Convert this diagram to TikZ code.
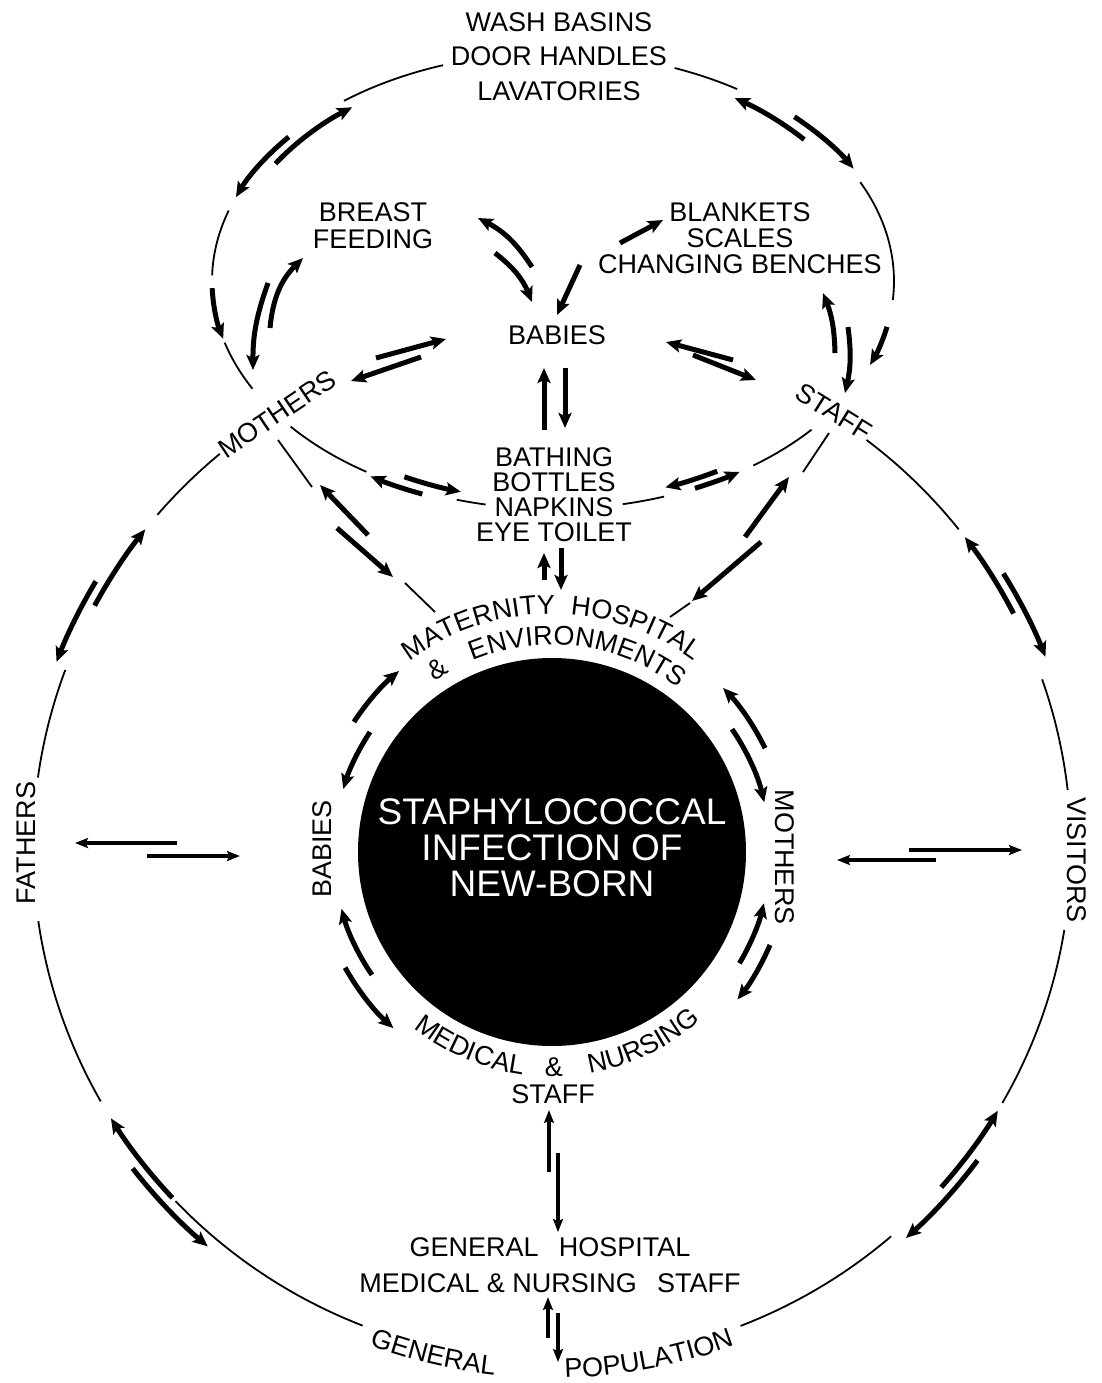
\documentclass[tikz,border=0pt]{standalone}
\usepackage{fontspec}
\setmainfont{Liberation Sans}
\usetikzlibrary{calc,arrows.meta}
\def\lblfont{\fontsize{13.5}{13}\selectfont}
\def\ttlfont{\fontsize{18.5}{18}\selectfont}
\def\ovalarc[#1](#2)(#3:#4:#5:#6){\draw[#1] ($(#2)+({#5*cos(#3)},{#6*sin(#3)})$) arc[start angle=#3, end angle=#4, x radius=#5, y radius=#6];}
% letter widths of the label font, in em
\def\cwA{0.667}\def\cwC{0.722}\def\cwD{0.722}\def\cwE{0.667}\def\cwG{0.778}\def\cwH{0.722}
\def\cwI{0.278}\def\cwL{0.556}\def\cwM{0.833}\def\cwN{0.722}\def\cwO{0.778}\def\cwP{0.667}
\def\cwR{0.722}\def\cwS{0.667}\def\cwT{0.611}\def\cwU{0.722}\def\cwV{0.667}\def\cwY{0.667}
\def\arcstop{}
\def\arcwd#1{\ifx#1\&\def\cw{0.667}\else\edef\cw{\csname cw#1\endcsname}\fi}
\def\arcword(#1)(#2:#3:#4)#5{\def\arcat{#1}\def\arcrad{#3}\def\arcsign{#4}\def\arctot{0}\arcsum#5\arcstop
	\pgfmathsetmacro\arccur{#2+(#4)*\arctot*13.5/#3*180/pi}\arcloop#5\arcstop}
\def\arcsum#1{\ifx#1\arcstop\else\arcwd{#1}\pgfmathsetmacro\arctot{\arctot+\cw}\expandafter\arcsum\fi}
\def\arcloop#1{\ifx#1\arcstop\else\arcput{#1}\expandafter\arcloop\fi}
\def\arcput#1{\arcwd{#1}%
	\pgfmathsetmacro\arcmid{\arccur-(\arcsign)*\cw*13.5/\arcrad*180/pi}%
	\pgfmathsetmacro\arccur{\arccur-(\arcsign)*2*\cw*13.5/\arcrad*180/pi}%
	\pgfmathsetmacro\arcrot{\arcmid-90*(\arcsign)}%
	\node[font=\lblfont, inner sep=0pt, anchor=base, rotate=\arcrot] at ($(\arcat)+(\arcmid:\arcrad)$) {#1};}

\begin{document}
\begin{tikzpicture}[x=0.5pt, y=0.5pt,
		wire/.style={line width=0.9pt},
		flow/.style={line width=2.5pt, -{Stealth[length=7.5pt,width=6.5pt,inset=1.5pt]}},
		link/.style={line width=1.7pt, -{Stealth[length=6.5pt,width=5pt,inset=1.2pt]}},
		lbl/.style={font=\lblfont, align=center, inner sep=0pt}]
		%%%%% START %%%%%
		
		\useasboundingbox (0,0) rectangle (1102,-1383);
		\coordinate (ec) at (553,-281);
		\coordinate (oc) at (552,-848);
		\coordinate (ic) at (552,-852);
		
		\fill[black] (ic) circle (194);
		\node[lbl, font=\ttlfont, text=white] (infection) at (552,-848) {STAPHYLOCOCCAL\\INFECTION OF\\NEW-BORN};
		
		\node[lbl, font=\fontsize{13.5}{17.25}\selectfont] (basins) at (559,-56.5) {WASH BASINS\\DOOR HANDLES\\LAVATORIES};
		\node[lbl, font=\fontsize{13.5}{13.5}\selectfont] (feeding) at (373,-225.5) {BREAST\\FEEDING};
		\node[lbl, font=\fontsize{13.5}{13}\selectfont] (blankets) at (740,-238) {BLANKETS\\SCALES\\CHANGING BENCHES};
		\node[lbl] (babiestop) at (557,-335) {BABIES};
		\node[lbl, font=\fontsize{13.5}{12.5}\selectfont] (bathing) at (554,-494.5) {BATHING\\BOTTLES\\NAPKINS\\EYE TOILET};
		\node[lbl, rotate=34] (mothersout) at (277,-414) {MOTHERS};
		\node[lbl, rotate=-32] (staffout) at (834,-412) {STAFF};
		\node[lbl, rotate=90] (fathers) at (26,-843) {FATHERS};
		\node[lbl, rotate=-90] (visitors) at (1077,-860) {VISITORS};
		\node[lbl, rotate=90] (babiesin) at (322,-849) {BABIES};
		\node[lbl, rotate=-90] (mothersin) at (785,-857) {MOTHERS};
		\node[lbl] (staffin) at (553,-1094) {STAFF};
		\node[lbl, font=\fontsize{13.5}{18}\selectfont] (genhosp) at (550,-1265) {GENERAL\hspace{0.75em}HOSPITAL\\MEDICAL \& NURSING\hspace{0.75em}STAFF};
		
		% curved labels
		\arcword(ic)(108:238:1){MATERNITY}
		\arcword(ic)(69.5:238:1){HOSPITAL}
		\arcword(ic)(122:207:1){\&}
		\arcword(ic)(82.4:207:1){ENVIRONMENTS}
		\arcword(ic)(247.2:224.5:-1){MEDICAL}
		\arcword(ic)(270.5:224.5:-1){\&}
		\arcword(ic)(295.5:224.5:-1){NURSING}
		\arcword(oc)(256.8:530:-1){GENERAL}
		\arcword(oc)(280.8:530:-1){POPULATION}
		
		% upper ellipse
		\ovalarc[wire](ec)(57.3:69.1:341:228);
		\ovalarc[wire](ec)(108.8:127.8:341:228);
		\ovalarc[wire](ec)(162:178.6:341:228);
		\ovalarc[wire](ec)(195.7:208.2:341:228);
		\ovalarc[wire](ec)(219.7:236.8:341:228);
		\ovalarc[wire](ec)(253.6:258.6:341:228);
		\ovalarc[wire](ec)(281.8:289:341:228);
		\ovalarc[wire](ec)(306:319.3:341:228);
		\ovalarc[wire](ec)(-4.8:25.7:341:228);
		
		\ovalarc[flow](ec)(147.7:127.7:328.4:219.6);
		\ovalarc[flow](ec)(140.8:158.4:341:228);
		\ovalarc[flow](ec)(181.8:194.7:341:228);
		\ovalarc[flow](ec)(247.7:238:344.4:230.3);
		\ovalarc[flow](ec)(243.1:253.7:328.4:219.6);
		\ovalarc[flow](ec)(300:290:328.4:219.6);
		\ovalarc[flow](ec)(294.6:303.2:341:228);
		\ovalarc[flow](ec)(40.1:56.4:328.4:219.6);
		\ovalarc[flow](ec)(45.5:29.2:344.4:230.3);
		\ovalarc[flow](ec)(-11.6:-21.6:341:228);
		
		% outer ring
		\ovalarc[wire](oc)(129.8:139.5:519:513);
		\ovalarc[wire](oc)(159.7:172.1:519:513);
		\ovalarc[wire](oc)(188.2:209.6:519:513);
		\ovalarc[wire](oc)(223.5:248.6:519:513);
		\ovalarc[wire](oc)(291.3:310.8:519:513);
		\ovalarc[wire](oc)(330.2:350.8:519:513);
		\ovalarc[wire](oc)(6.5:19.2:519:513);
		\ovalarc[wire](oc)(38.4:52.7:519:513);
		
		\ovalarc[flow](oc)(151.8:141.6:519:513);
		\ovalarc[flow](oc)(149.4:159.2:530:524);
		\ovalarc[flow](oc)(223:211.8:519:513);
		\ovalarc[flow](oc)(217.7:229.5:530:524);
		\ovalarc[flow](oc)(323.4:311.9:530:524);
		\ovalarc[flow](oc)(318.6:329.2:519:513);
		\ovalarc[flow](oc)(31.6:21.4:530:524);
		\ovalarc[flow](oc)(27.2:37.3:519:513);
		
		% ring round the infection
		\ovalarc[flow](ic)(146.7:130.2:237:237);
		\ovalarc[flow](ic)(146.6:163.2:218:218);
		\ovalarc[flow](ic)(214.3:195.1:218:218);
		\ovalarc[flow](ic)(209.2:228:237:237);
		\ovalarc[flow](ic)(26:43.8:237:237);
		\ovalarc[flow](ic)(34.3:13.2:218:218);
		\ovalarc[flow](ic)(-30.7:-13.6:218:218);
		\ovalarc[flow](ic)(-23.1:-38.5:237:237);
		
		% inside the upper ellipse
		\draw[flow] (376,-358) -- (446,-339);
		\draw[flow] (421,-357) -- (351,-381);
		\draw[flow] (733,-360) -- (666,-342);
		\draw[flow] (693,-355) -- (756,-380);
		\draw[flow] (544,-430) -- (544,-368);
		\draw[flow] (565,-368) -- (565,-428);
		\draw[flow] (532,-267) to[bend right=15] (478,-218);
		\draw[flow] (495,-253) to[bend left=15] (532,-302);
		\draw[flow] (580,-265) -- (557,-315);
		\draw[flow] (620,-243) -- (663,-220);
		\draw[flow] (270,-328) to[bend left=20] (303,-258);
		\draw[flow] (268,-283) to[bend right=10] (253,-370);
		\draw[flow] (835,-353) to[bend right=10] (823,-293);
		\draw[flow] (848,-327) to[bend left=10] (845,-393);
		
		% down to the maternity hospital
		\draw[wire] (278,-440) -- (312,-487);
		\draw[flow] (368,-535) -- (320,-485);
		\draw[flow] (337,-528) -- (393,-577);
		\draw[wire] (405,-583) -- (435,-612);
		\draw[wire] (829,-433) -- (803,-472);
		\draw[flow] (745,-537) -- (789,-477);
		\draw[flow] (761,-542) -- (692,-601);
		\draw[wire] (690,-603) -- (670,-617);
		\draw[flow] (544,-580) -- (544,-553);
		\draw[flow] (561,-548) -- (561,-590);
		
		\draw[link] (177,-843) -- (75,-843);
		\draw[link] (147,-856) -- (240,-856);
		\draw[link] (936,-860) -- (837,-860);
		\draw[link] (909,-850) -- (1022,-850);
		
		\draw[link] (549,-1172) -- (549,-1110);
		\draw[link] (558,-1153) -- (558,-1232);
		\draw[link] (548,-1338) -- (548,-1297);
		\draw[link] (558,-1313) -- (558,-1362);
		
		%%%%% END %%%%%
	\end{tikzpicture}
\end{document}
